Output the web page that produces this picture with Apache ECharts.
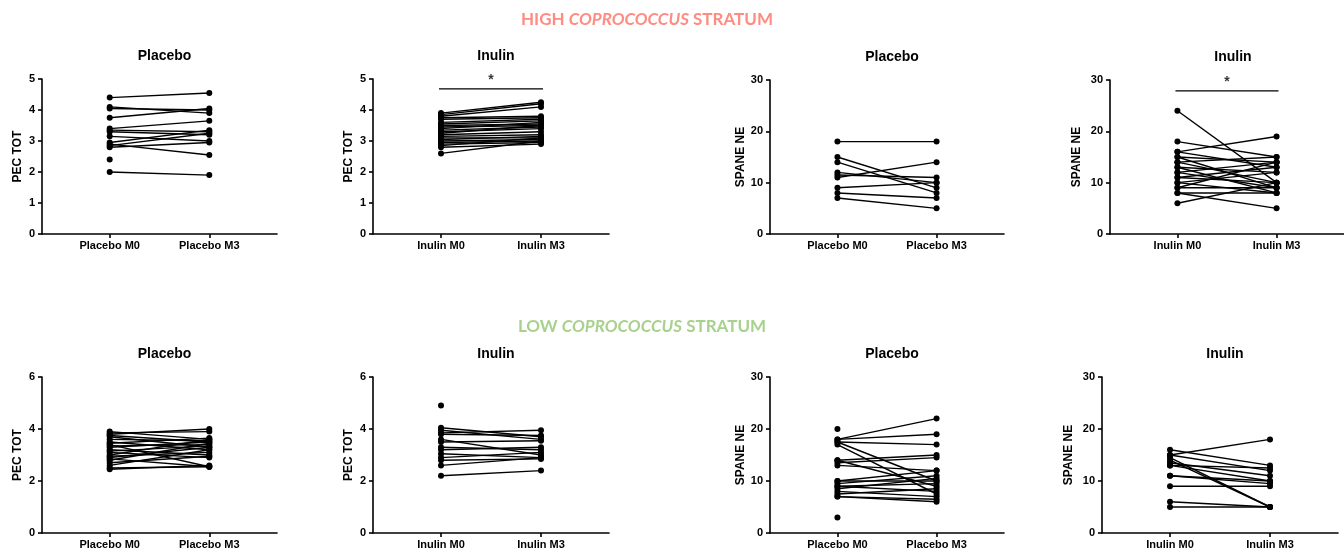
<!DOCTYPE html>
<html>
<head>
<meta charset="utf-8">
<title>Coprococcus strata</title>
<script src="https://cdn.jsdelivr.net/npm/echarts@6/dist/echarts.min.js"></script>
<style>
  html, body { margin: 0; padding: 0; background: #fff; }
  #chart { width: 1344px; height: 556px; }
</style>
</head>
<body>
<div id="chart"></div>
<script>
// ---- data ----
const placeboCats = ['Placebo M0', 'Placebo M3'];
const inulinCats = ['Inulin M0', 'Inulin M3'];

// high coprococcus stratum
const hiPlaPecM0 = [4.4, 4.1, 4.05, 3.75, 3.4, 3.35, 3.3, 3.15, 2.95, 2.9, 2.85, 2.8, 2.4, 2.0];
const hiPlaPecM3 = [4.55, 3.9, 4.0, 4.05, 3.65, 3.3, 3.2, 3.0, 3.35, 2.55, 3.25, 2.95, null, 1.9];

const hiInuPecM0 = [3.9, 3.85, 3.8, 3.75, 3.7, 3.6, 3.55, 3.5, 3.45, 3.4, 3.35, 3.3, 3.25, 3.2, 3.15, 3.1, 3.05, 3.0, 2.95, 2.9, 2.85, 2.8, 2.6];
const hiInuPecM3 = [4.25, 4.2, 4.1, 3.8, 3.75, 3.7, 3.65, 3.55, 3.5, 3.6, 3.45, 3.4, 3.5, 3.3, 3.2, 3.1, 3.15, 3.05, 3.0, 2.95, 3.1, 2.9, 3.0];

const hiPlaSpaM0 = [18, 15, 14, 12, 11.5, 11, 9, 8, 7];
const hiPlaSpaM3 = [18, 9, 8, 10, 11, 14, 10, 7, 5];

const hiInuSpaM0 = [24, 18, 16, 16, 15, 15, 14, 14, 13, 13, 12, 12, 11, 11, 10, 10, 9, 9, 8, 8, 6];
const hiInuSpaM3 = [10, 15, 19, 13, 14, 9, 15, 10, 12, 8, 14, 9, 13, 10, 8, 12, 9, 14, 5, 8, 10];

// low coprococcus stratum
const loPlaPecM0 = [3.9, 3.85, 3.8, 3.75, 3.7, 3.6, 3.5, 3.45, 3.4, 3.35, 3.3, 3.2, 3.15, 3.1, 3.0, 2.95, 2.9, 2.85, 2.8, 2.7, 2.6, 2.5, 2.45];
const loPlaPecM3 = [3.6, 3.9, 4.0, 3.5, 3.3, 3.55, 3.2, 3.65, 2.55, 3.4, 3.5, 3.0, 3.35, 2.9, 3.6, 3.1, 3.3, 2.55, 3.45, 2.95, 3.2, 2.55, 2.6];

const loInuPecM0 = [4.9, 4.05, 3.95, 3.85, 3.8, 3.6, 3.5, 3.3, 3.2, 3.05, 2.9, 2.8, 2.6, 2.2];
const loInuPecM3 = [null, 3.7, 3.6, 3.95, 3.75, 3.0, 3.55, 3.2, 3.3, 2.9, 3.1, 2.85, 2.9, 2.4];

const loPlaSpaM0 = [20, 18, 18, 17.5, 17.5, 17, 14, 14, 13.5, 13, 10, 10, 9.5, 9, 9, 8.5, 8, 7.5, 7, 7, 3];
const loPlaSpaM3 = [null, 22, 19, 17, 10, 7.5, 15, 9, 14.5, 12, 10, 12, 11, 9.5, 8, 10.5, 7, 8.5, 6, 6.5, null];

const loInuSpaM0 = [16, 15, 15, 14.5, 14, 13.5, 13, 13, 11, 11, 9, 6, 5];
const loInuSpaM3 = [13, 18, 12, 5, 5, 11, 12.5, 10, 10, 9.5, 9, 5, 5];

// significance bars (value height of bar, label '*')
const hiInuPecSig = 4.68;
const hiInuSpaSig = 27.9;

// ---- layout ----
const panels = [
  { title: 'Placebo', cats: placeboCats, m0: hiPlaPecM0, m3: hiPlaPecM3, name: 'PEC TOT', max: 5, step: 1, left: 42, width: 235, top: 79, height: 155, gap: 18 },
  { title: 'Inulin', cats: inulinCats, m0: hiInuPecM0, m3: hiInuPecM3, name: 'PEC TOT', max: 5, step: 1, left: 373, width: 236, top: 79, height: 155, gap: 18, sig: hiInuPecSig },
  { title: 'Placebo', cats: placeboCats, m0: hiPlaSpaM0, m3: hiPlaSpaM3, name: 'SPANE NE', max: 30, step: 10, left: 770, width: 234, top: 80, height: 154, gap: 21 },
  { title: 'Inulin', cats: inulinCats, m0: hiInuSpaM0, m3: hiInuSpaM3, name: 'SPANE NE', max: 30, step: 10, left: 1110, width: 236, top: 80, height: 154, gap: 27, sig: hiInuSpaSig },
  { title: 'Placebo', cats: placeboCats, m0: loPlaPecM0, m3: loPlaPecM3, name: 'PEC TOT', max: 6, step: 2, left: 42, width: 235, top: 377, height: 156, gap: 18 },
  { title: 'Inulin', cats: inulinCats, m0: loInuPecM0, m3: loInuPecM3, name: 'PEC TOT', max: 6, step: 2, left: 373, width: 236, top: 377, height: 156, gap: 18 },
  { title: 'Placebo', cats: placeboCats, m0: loPlaSpaM0, m3: loPlaSpaM3, name: 'SPANE NE', max: 30, step: 10, left: 770, width: 234, top: 377, height: 156, gap: 21 },
  { title: 'Inulin', cats: inulinCats, m0: loInuSpaM0, m3: loInuSpaM3, name: 'SPANE NE', max: 30, step: 10, left: 1102, width: 236, top: 377, height: 156, gap: 27 },
];

const FONT = 'Liberation Sans, Arial, sans-serif';
const chart = echarts.init(document.getElementById('chart'));

const grid = [];
const xAxis = [];
const yAxis = [];
const series = [];
const title = [
  {
    text: '{a|HIGH }{b|COPROCOCCUS}{a| STRATUM}',
    left: 642, top: 6, textAlign: 'center',
    textStyle: {
      rich: {
        a: { fontFamily: 'Lato', fontWeight: 'bold', fontSize: 17, color: '#FF8C82' },
        b: { fontFamily: 'Lato', fontWeight: 'bold', fontStyle: 'italic', fontSize: 17, color: '#FF8C82' },
      },
    },
  },
  {
    text: '{a|LOW }{b|COPROCOCCUS}{a| STRATUM}',
    left: 637, top: 313, textAlign: 'center',
    textStyle: {
      rich: {
        a: { fontFamily: 'Lato', fontWeight: 'bold', fontSize: 17, color: '#A9D18E' },
        b: { fontFamily: 'Lato', fontWeight: 'bold', fontStyle: 'italic', fontSize: 17, color: '#A9D18E' },
      },
    },
  },
];

panels.forEach((p, i) => {
  grid.push({ left: p.left, top: p.top, width: p.width, height: p.height, containLabel: false });
  title.push({
    text: p.title,
    left: p.left + p.width / 2,
    top: p.top - 35,
    textAlign: 'center',
    textStyle: { fontFamily: FONT, fontWeight: 'bold', fontSize: 14, color: '#000' },
  });
  xAxis.push({
    type: 'value',
    gridIndex: i,
    min: -0.68,
    max: 1.68,
    splitLine: { show: false },
    axisLine: { onZero: false, lineStyle: { color: '#000', width: 1.6 } },
    axisTick: { customValues: [0, 1], length: 4, lineStyle: { color: '#000', width: 1.6 } },
    axisLabel: {
      customValues: [0, 1],
      formatter: v => p.cats[Math.round(v)],
      fontFamily: FONT, fontWeight: 'bold', fontSize: 11, color: '#000', margin: 6,
    },
  });
  yAxis.push({
    type: 'value',
    gridIndex: i,
    min: 0,
    max: p.max,
    interval: p.step,
    name: p.name,
    nameLocation: 'middle',
    nameGap: p.gap,
    nameTextStyle: { fontFamily: FONT, fontWeight: 'bold', fontSize: 12, color: '#000' },
    splitLine: { show: false },
    axisLine: { show: true, onZero: false, lineStyle: { color: '#000', width: 1.6 } },
    axisTick: { show: true, length: 4, lineStyle: { color: '#000', width: 1.6 } },
    axisLabel: { fontFamily: FONT, fontWeight: 'bold', fontSize: 11, color: '#000', margin: 7 },
  });

  p.m0.forEach((v0, j) => {
    const v3 = p.m3[j];
    const data = v3 == null ? [[0, v0]] : [[0, v0], [1, v3]];
    series.push({
      type: 'line',
      xAxisIndex: i,
      yAxisIndex: i,
      data: data,
      symbol: 'circle',
      symbolSize: 6,
      showSymbol: true,
      silent: true,
      lineStyle: { color: '#000', width: 1.4 },
      itemStyle: { color: '#000' },
    });
  });

  if (p.sig != null) {
    // 显著性横线
    series.push({
      type: 'line',
      xAxisIndex: i,
      yAxisIndex: i,
      data: [[-0.02, p.sig], [1.02, p.sig]],
      symbol: 'none',
      silent: true,
      lineStyle: { color: '#000', width: 1.2 },
    });
    // 星号
    series.push({
      type: 'scatter',
      xAxisIndex: i,
      yAxisIndex: i,
      data: [[0.5, p.sig]],
      symbolSize: 0,
      silent: true,
      label: {
        show: true,
        formatter: '*',
        position: 'top',
        distance: 2,
        fontFamily: FONT, fontWeight: 'bold', fontSize: 14, color: '#000',
      },
    });
  }
});

chart.setOption({
  animation: false,
  backgroundColor: '#fff',
  title: title,
  grid: grid,
  xAxis: xAxis,
  yAxis: yAxis,
  series: series,
});
</script>
</body>
</html>
